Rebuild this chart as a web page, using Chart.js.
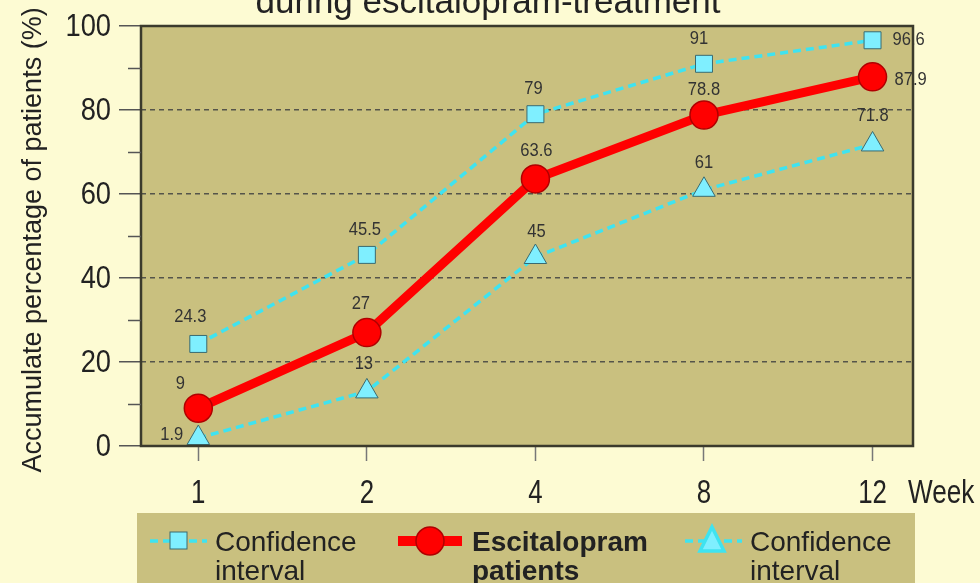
<!DOCTYPE html>
<html>
<head>
<meta charset="utf-8">
<script src="https://cdn.jsdelivr.net/npm/chart.js@4/dist/chart.umd.min.js"></script>
<style>
  html, body { margin: 0; padding: 0; background: #fdfbd3; }
  canvas { display: block; }
</style>
</head>
<body>
<canvas id="chart" width="980" height="583"></canvas>
<script>
// values
var weeks = ['1', '2', '4', '8', '12'];
var upperCI = [24.3, 45.5, 79, 91, 96.6];
var patients = [9, 27, 63.6, 78.8, 87.9];
var lowerCI = [1.9, 13, 45, 61, 71.8];
var yTicks = [0, 20, 40, 60, 80, 100];

var OLIVE = '#c9c07f';
var CYAN = '#3fe3f0';
var SANS = '"Liberation Sans", Arial, sans-serif';

function pts(arr) {
  return arr.map(function (v, i) { return { x: i, y: v }; });
}

// draw text squeezed horizontally (the original uses a narrow face)
function narrowText(ctx, txt, x, y, font, align, sx) {
  ctx.save();
  ctx.font = font;
  ctx.textAlign = align;
  ctx.translate(x, y);
  ctx.scale(sx, 1);
  ctx.fillText(txt, 0, 0);
  ctx.restore();
}

// olive plot area, frame, minor ticks, tick labels, titles
var decor = {
  id: 'decor',
  beforeDraw: function (chart) {
    var a = chart.chartArea, ctx = chart.ctx;
    ctx.save();
    ctx.fillStyle = OLIVE;
    ctx.fillRect(a.left, a.top, a.right - a.left, a.bottom - a.top);
    ctx.restore();
  },
  afterDraw: function (chart) {
    var a = chart.chartArea, ctx = chart.ctx, y = chart.scales.y, x = chart.scales.x;
    ctx.save();
    ctx.strokeStyle = '#3b3a2c';
    ctx.lineWidth = 2.5;
    ctx.strokeRect(a.left, a.top, a.right - a.left, a.bottom - a.top);
    ctx.lineWidth = 1.5;
    ctx.strokeStyle = '#555';
    for (var v = 10; v < 100; v += 20) {
      var py = Math.round(y.getPixelForValue(v)) + 0.5;
      ctx.beginPath(); ctx.moveTo(a.left - 13, py); ctx.lineTo(a.left, py); ctx.stroke();
    }
    ctx.fillStyle = '#222';
    ctx.textBaseline = 'middle';
    y.ticks.forEach(function (t) {
      narrowText(ctx, String(t.value), 111, y.getPixelForValue(t.value) + 1, '31px ' + SANS, 'right', 0.88);
    });
    x.ticks.forEach(function (t) {
      narrowText(ctx, weeks[t.value], x.getPixelForValue(t.value), 494, '34px ' + SANS, 'center', 0.76);
    });
    narrowText(ctx, 'Week', 908, 494, '34px ' + SANS, 'left', 0.77);

    // y axis title
    ctx.save();
    ctx.translate(34, 240);
    ctx.rotate(-Math.PI / 2);
    ctx.font = '27px ' + SANS;
    ctx.textAlign = 'center';
    ctx.fillText('Accumulate percentage of patients (%)', 0, 0);
    ctx.restore();

    // chart title, cut off at the top like the original
    ctx.textBaseline = 'alphabetic';
    narrowText(ctx, 'during escitalopram-treatment', 488, 13, '35px ' + SANS, 'center', 1);
    ctx.restore();
  }
};

// value labels next to each point
var valueLabels = {
  id: 'valueLabels',
  afterDatasetsDraw: function (chart) {
    var ctx = chart.ctx;
    var place = [
      [[-8, -27, 'center'], [-2, -25, 'center'], [-2, -25, 'center'], [-5, -25, 'center'], [20, 0, 'left']],
      [[-18, -24, 'center'], [-6, -29, 'center'], [1, -28, 'center'], [0, -25, 'center'], [22, 3, 'left']],
      [[-15, -3, 'right'], [-3, -27, 'center'], [1, -25, 'center'], [0, -27, 'center'], [0, -28, 'center']]
    ];
    ctx.save();
    ctx.fillStyle = '#333';
    ctx.textBaseline = 'middle';
    chart.data.datasets.forEach(function (ds, di) {
      var meta = chart.getDatasetMeta(di);
      meta.data.forEach(function (p, i) {
        var o = place[di][i];
        narrowText(ctx, String(ds.data[i].y), p.x + o[0], p.y + o[1], '18px ' + SANS, o[2], 0.92);
      });
    });
    ctx.restore();
  }
};

// legend box at the bottom
var legendBox = {
  id: 'legendBox',
  afterDraw: function (chart) {
    var ctx = chart.ctx;
    ctx.save();
    ctx.fillStyle = OLIVE;
    ctx.fillRect(137, 513, 778, 75);
    var cy = 541;
    function dashed(x1, x2) {
      ctx.strokeStyle = CYAN; ctx.lineWidth = 3.5; ctx.setLineDash([8, 5]);
      ctx.beginPath(); ctx.moveTo(x1, cy); ctx.lineTo(x2, cy); ctx.stroke();
      ctx.setLineDash([]);
    }
    dashed(150, 207);
    ctx.fillStyle = '#7fefff'; ctx.strokeStyle = '#3a6a70'; ctx.lineWidth = 1;
    ctx.fillRect(170, 532, 17, 17); ctx.strokeRect(170, 532, 17, 17);
    dashed(685, 742);
    ctx.fillStyle = '#7fefff';
    ctx.beginPath(); ctx.moveTo(712, 527); ctx.lineTo(724, 551); ctx.lineTo(700, 551); ctx.closePath();
    ctx.fill(); ctx.stroke();
    ctx.strokeStyle = '#ff0000'; ctx.lineWidth = 10;
    ctx.beginPath(); ctx.moveTo(398, cy); ctx.lineTo(462, cy); ctx.stroke();
    ctx.fillStyle = '#ff0000'; ctx.strokeStyle = '#b00000'; ctx.lineWidth = 1.5;
    ctx.beginPath(); ctx.arc(430, cy, 14, 0, Math.PI * 2); ctx.fill(); ctx.stroke();

    ctx.fillStyle = '#222';
    ctx.textBaseline = 'alphabetic';
    ctx.textAlign = 'left';
    ctx.font = '28px ' + SANS;
    ctx.fillText('Confidence', 215, 551);
    ctx.fillText('interval', 215, 580);
    ctx.fillText('Confidence', 750, 551);
    ctx.fillText('interval', 750, 580);
    ctx.font = 'bold 28px ' + SANS;
    ctx.fillText('Escitalopram', 472, 551);
    ctx.fillText('patients', 472, 580);
    ctx.restore();
  }
};

new Chart(document.getElementById('chart'), {
  type: 'line',
  data: {
    datasets: [
      {
        label: 'Confidence interval',
        data: pts(upperCI),
        borderColor: CYAN, borderWidth: 3.5, borderDash: [8, 5],
        pointStyle: 'rect', pointRadius: 12,
        pointBackgroundColor: '#7fefff', pointBorderColor: '#3a6a70', pointBorderWidth: 1,
        tension: 0, order: 2
      },
      {
        label: 'Escitalopram patients',
        data: pts(patients),
        borderColor: '#ff0000', borderWidth: 9,
        pointStyle: 'circle', pointRadius: 14,
        pointBackgroundColor: '#ff0000', pointBorderColor: '#b00000', pointBorderWidth: 1.5,
        tension: 0, order: 1
      },
      {
        label: 'Confidence interval',
        data: pts(lowerCI),
        borderColor: CYAN, borderWidth: 3.5, borderDash: [8, 5],
        pointStyle: 'triangle', pointRadius: 13,
        pointBackgroundColor: '#7fefff', pointBorderColor: '#3a6a70', pointBorderWidth: 1,
        tension: 0, order: 3
      }
    ]
  },
  options: {
    responsive: false,
    devicePixelRatio: 1,
    animation: false,
    clip: false,
    layout: { padding: { left: 0, right: 67, top: 26, bottom: 0 } },
    plugins: { legend: { display: false }, tooltip: { enabled: false } },
    scales: {
      x: {
        type: 'linear', min: -0.34, max: 4.24,
        afterBuildTicks: function (s) { s.ticks = weeks.map(function (w, i) { return { value: i }; }); },
        afterFit: function (s) { s.height = 137; },
        border: { display: false },
        grid: { drawOnChartArea: false, tickLength: 15, tickColor: '#777', tickWidth: 1.5 },
        ticks: { display: false }
      },
      y: {
        min: 0, max: 100,
        afterBuildTicks: function (s) { s.ticks = yTicks.map(function (v) { return { value: v }; }); },
        afterFit: function (s) { s.width = 141; },
        border: { display: false, dash: [5, 4] },
        grid: {
          tickLength: 22, tickColor: '#555', tickWidth: 1.5, tickBorderDash: [],
          color: function (c) { return (c.tick && (c.tick.value === 0 || c.tick.value === 100)) ? 'rgba(0,0,0,0)' : '#55544a'; },
          lineWidth: 1.5
        },
        ticks: { display: false }
      }
    }
  },
  plugins: [decor, valueLabels, legendBox]
});
</script>
</body>
</html>
